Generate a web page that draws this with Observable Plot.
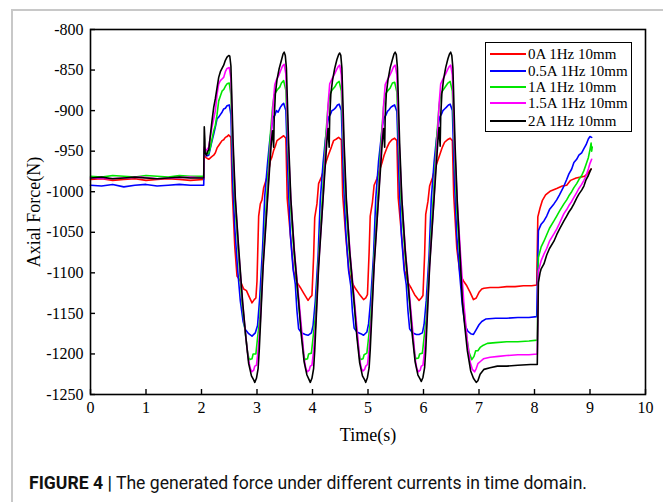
<!DOCTYPE html>
<html>
<head>
<meta charset="utf-8">
<script src="https://cdn.jsdelivr.net/npm/d3@7"></script>
<script src="https://cdn.jsdelivr.net/npm/@observablehq/plot@0.6"></script>
<style>
  html, body { margin: 0; padding: 0; background: #fff; }
  #wrap { position: relative; width: 663px; height: 502px; overflow: hidden; background: #fff; }
  #border { position: absolute; left: 11px; top: 9px; width: 700px; height: 600px;
            border-left: 2px solid #c8c8c8; border-top: 2px solid #c8c8c8; }
  #chart { position: absolute; left: 0; top: 0; }
  #legend { position: absolute; left: 485px; top: 42px; width: 145px; height: 88px;
            border: 1.5px solid #000; background: #fff; font-family: "Liberation Serif", "Times New Roman", serif;
            font-size: 15px; color: #000; }
  .lrow { position: absolute; left: 0; height: 16px; line-height: 16px; white-space: nowrap; }
  .lrow .sw { position: absolute; left: 4px; top: 7px; width: 36px; height: 2px; }
  .lrow .tx { position: absolute; left: 42px; top: 0; }
  #caption { position: absolute; left: 29px; top: 472px; font-family: Roboto, "Liberation Sans", Arial, sans-serif;
             font-size: 18px; color: #111; white-space: nowrap; transform-origin: 0 0; }
  #caption b { font-weight: 700; }
</style>
</head>
<body>
<div id="wrap">
  <div id="border"></div>
  <div id="chart"></div>
  <div id="legend"></div>
  <div id="caption"><b>FIGURE 4</b> <b>|</b> The generated force under different currents in time domain.</div>
</div>
<script>
// ---- Data (time in s, axial force in N) ----
const seriesNames = ["0A 1Hz 10mm", "0.5A 1Hz 10mm", "1A 1Hz 10mm", "1.5A 1Hz 10mm", "2A 1Hz 10mm"];
const seriesColors = ["#ff0000", "#0000ff", "#00e600", "#ff00ff", "#000000"];
const xTicks = [0, 1, 2, 3, 4, 5, 6, 7, 8, 9, 10];
const yTicks = [-1250, -1200, -1150, -1100, -1050, -1000, -950, -900, -850, -800];

const force0A = [
  [0,-985],[0.2,-984],[0.4,-986],[0.6,-985],[0.8,-984],[1.0,-986],[1.2,-985],[1.4,-984],[1.6,-985],[1.8,-986],[2.04,-985],
  [2.05,-955],[2.08,-958],[2.13,-960],[2.18,-957],[2.22,-955],[2.25,-952],[2.28,-946],[2.31,-943],[2.34,-940],[2.37,-937],[2.4,-936],[2.43,-933],[2.46,-932],[2.49,-930],[2.53,-933],
  [2.555,-1000],[2.6,-1068],[2.64,-1104],[2.7,-1110],[2.76,-1120],[2.81,-1122],[2.85,-1128],[2.91,-1137],[2.95,-1133],[2.98,-1131],[3.0,-1110],[3.03,-1030],[3.06,-1015],[3.09,-1010],[3.12,-995],[3.18,-982],[3.21,-975],[3.24,-962],[3.27,-957],[3.3,-949],[3.33,-944],[3.36,-937],[3.42,-934],[3.48,-931],[3.52,-934],
  [3.545,-1009],[3.6,-1052],[3.66,-1098],[3.72,-1112],[3.78,-1118],[3.84,-1125],[3.92,-1134],[3.96,-1130],[3.99,-1128],[4.02,-1080],[4.04,-1032],[4.08,-1015],[4.11,-990],[4.16,-982],[4.2,-974],[4.25,-962],[4.29,-954],[4.34,-945],[4.38,-937],[4.43,-935],[4.47,-933],[4.52,-936],
  [4.545,-1005],[4.6,-1055],[4.66,-1100],[4.72,-1113],[4.78,-1120],[4.84,-1126],[4.92,-1133],[4.96,-1131],[4.99,-1127],[5.02,-1075],[5.04,-1030],[5.08,-1013],[5.11,-992],[5.16,-984],[5.2,-975],[5.25,-965],[5.29,-955],[5.34,-946],[5.38,-940],[5.43,-936],[5.48,-934],[5.52,-937],
  [5.545,-1008],[5.6,-1050],[5.66,-1097],[5.72,-1112],[5.78,-1119],[5.84,-1127],[5.92,-1134],[5.96,-1131],[5.99,-1128],[6.02,-1078],[6.04,-1028],[6.08,-1012],[6.11,-993],[6.16,-983],[6.2,-973],[6.25,-963],[6.29,-955],[6.34,-945],[6.38,-939],[6.43,-936],[6.48,-934],[6.52,-937],
  [6.545,-1005],[6.6,-1070],[6.66,-1102],[6.72,-1110],[6.78,-1116],[6.84,-1124],[6.9,-1133],[6.95,-1131],[7.0,-1124],[7.05,-1120],[7.09,-1119],[7.2,-1118],[7.35,-1118],[7.5,-1117],[7.65,-1117],[7.8,-1116],[7.95,-1116],[8.04,-1115],
  [8.06,-1031],[8.1,-1020],[8.14,-1011],[8.2,-1004],[8.29,-999],[8.4,-996],[8.5,-993],[8.58,-992],[8.65,-986],[8.75,-983],[8.83,-982],[8.9,-981],[8.95,-978],[9.02,-972]
];

const force05A = [
  [0,-992],[0.2,-993],[0.4,-991],[0.6,-994],[0.8,-992],[1.0,-991],[1.2,-993],[1.4,-992],[1.6,-991],[1.8,-992],[2.04,-992],
  [2.05,-950],[2.09,-956],[2.13,-955],[2.18,-940],[2.22,-929],[2.25,-920],[2.28,-910],[2.31,-908],[2.34,-905],[2.37,-902],[2.4,-898],[2.43,-897],[2.46,-894],[2.5,-893],[2.53,-905],
  [2.56,-985],[2.6,-1045],[2.65,-1095],[2.7,-1135],[2.75,-1160],[2.79,-1170],[2.85,-1175],[2.91,-1178],[2.97,-1174],[3.01,-1165],
  [3.05,-1130],[3.1,-1070],[3.14,-1005],[3.19,-965],[3.23,-937],[3.27,-918],[3.29,-908],[3.32,-906],[3.35,-900],[3.38,-902],[3.42,-896],[3.45,-893],[3.48,-891],[3.52,-900],
  [3.56,-985],[3.6,-1052],[3.65,-1095],[3.69,-1114],[3.72,-1147],[3.75,-1169],[3.8,-1174],[3.87,-1176],[3.92,-1177],[3.98,-1174],[4.01,-1165],
  [4.05,-1135],[4.1,-1080],[4.14,-1010],[4.19,-965],[4.23,-937],[4.26,-920],[4.29,-908],[4.32,-905],[4.35,-900],[4.38,-899],[4.41,-897],[4.45,-893],[4.48,-892],[4.52,-900],
  [4.56,-988],[4.6,-1050],[4.65,-1097],[4.69,-1116],[4.72,-1148],[4.75,-1168],[4.8,-1173],[4.87,-1175],[4.92,-1177],[4.98,-1173],[5.01,-1163],
  [5.05,-1132],[5.1,-1078],[5.14,-1008],[5.19,-963],[5.23,-938],[5.26,-919],[5.29,-909],[5.32,-906],[5.35,-901],[5.38,-899],[5.41,-896],[5.45,-894],[5.48,-893],[5.52,-901],
  [5.56,-986],[5.6,-1051],[5.65,-1096],[5.69,-1115],[5.72,-1147],[5.75,-1169],[5.8,-1174],[5.87,-1176],[5.92,-1176],[5.98,-1174],[6.01,-1164],
  [6.05,-1134],[6.1,-1079],[6.14,-1009],[6.19,-964],[6.23,-937],[6.26,-920],[6.29,-908],[6.32,-905],[6.35,-900],[6.38,-898],[6.41,-896],[6.45,-893],[6.48,-892],[6.52,-900],
  [6.56,-990],[6.6,-1055],[6.65,-1100],[6.7,-1140],[6.75,-1165],[6.8,-1172],[6.85,-1175],[6.9,-1176],[6.95,-1170],[7.0,-1164],[7.05,-1160],[7.12,-1157],[7.3,-1156],[7.5,-1156],[7.7,-1155],[7.9,-1155],[8.04,-1154],
  [8.07,-1048],[8.12,-1040],[8.17,-1036],[8.22,-1030],[8.27,-1022],[8.35,-1015],[8.4,-1010],[8.45,-1004],[8.53,-993],[8.58,-985],[8.62,-978],[8.67,-972],[8.71,-964],[8.76,-960],[8.8,-955],[8.85,-952],[8.89,-947],[8.93,-942],[8.97,-935],[9.0,-932],[9.03,-933]
];

const force1A = [
  [0,-981],[0.2,-982],[0.4,-980],[0.6,-981],[0.8,-982],[1.0,-980],[1.2,-981],[1.4,-982],[1.6,-980],[1.8,-981],[2.04,-981],
  [2.05,-948],[2.08,-953],[2.13,-953],[2.16,-945],[2.19,-935],[2.22,-925],[2.25,-918],[2.28,-905],[2.31,-888],[2.34,-882],[2.37,-876],[2.4,-874],[2.43,-870],[2.46,-867],[2.5,-866],[2.53,-880],
  [2.56,-950],[2.6,-1012],[2.66,-1072],[2.73,-1137],[2.79,-1175],[2.83,-1198],[2.86,-1207],[2.91,-1206],[2.93,-1200],[2.98,-1200],[3.01,-1180],
  [3.05,-1158],[3.11,-1080],[3.18,-1002],[3.24,-930],[3.28,-896],[3.31,-881],[3.34,-877],[3.37,-874],[3.41,-871],[3.44,-866],[3.48,-863],[3.52,-875],
  [3.56,-950],[3.6,-1012],[3.67,-1078],[3.75,-1137],[3.81,-1180],[3.84,-1200],[3.86,-1207],[3.91,-1206],[3.93,-1200],[3.98,-1199],[4.01,-1180],
  [4.05,-1155],[4.11,-1082],[4.18,-1005],[4.24,-930],[4.28,-895],[4.31,-880],[4.35,-875],[4.4,-871],[4.44,-866],[4.48,-864],[4.52,-876],
  [4.56,-952],[4.6,-1014],[4.67,-1080],[4.75,-1138],[4.81,-1181],[4.84,-1200],[4.86,-1207],[4.91,-1206],[4.93,-1201],[4.98,-1199],[5.01,-1180],
  [5.05,-1156],[5.11,-1080],[5.18,-1004],[5.24,-932],[5.28,-896],[5.31,-880],[5.35,-876],[5.4,-872],[5.44,-866],[5.48,-865],[5.52,-877],
  [5.56,-951],[5.6,-1013],[5.67,-1079],[5.75,-1137],[5.81,-1180],[5.84,-1199],[5.86,-1206],[5.91,-1205],[5.93,-1200],[5.98,-1199],[6.01,-1180],
  [6.05,-1157],[6.11,-1081],[6.18,-1003],[6.24,-931],[6.28,-895],[6.31,-879],[6.35,-875],[6.4,-870],[6.44,-866],[6.48,-864],[6.52,-876],
  [6.56,-955],[6.6,-1020],[6.66,-1085],[6.72,-1140],[6.78,-1180],[6.82,-1198],[6.87,-1207],[6.91,-1203],[6.94,-1196],[6.98,-1196],[7.02,-1192],[7.06,-1190],[7.15,-1187],[7.3,-1186],[7.5,-1185],[7.7,-1185],[7.9,-1184],[8.05,-1183],
  [8.07,-1081],[8.12,-1068],[8.17,-1061],[8.22,-1053],[8.27,-1045],[8.35,-1036],[8.4,-1030],[8.45,-1024],[8.53,-1015],[8.58,-1010],[8.62,-1005],[8.67,-1000],[8.71,-995],[8.76,-990],[8.8,-985],[8.85,-980],[8.89,-974],[8.93,-966],[8.97,-958],[9.0,-948],[9.02,-940],[9.03,-950],[9.04,-945]
];

const force15A = [
  [0,-983],[0.3,-984],[0.6,-983],[0.9,-982],[1.2,-984],[1.5,-983],[1.8,-982],[2.04,-983],
  [2.05,-945],[2.08,-950],[2.13,-945],[2.16,-932],[2.19,-920],[2.22,-910],[2.25,-900],[2.28,-880],[2.31,-867],[2.34,-863],[2.37,-861],[2.4,-859],[2.43,-852],[2.46,-848],[2.5,-847],[2.53,-860],
  [2.565,-945],[2.61,-1010],[2.67,-1073],[2.74,-1137],[2.8,-1180],[2.84,-1205],[2.88,-1218],[2.91,-1222],[2.94,-1220],[2.96,-1215],[2.99,-1214],[3.02,-1196],
  [3.06,-1160],[3.11,-1088],[3.19,-1007],[3.25,-935],[3.29,-893],[3.32,-868],[3.35,-862],[3.39,-857],[3.43,-850],[3.46,-845],[3.49,-843],[3.52,-855],
  [3.565,-945],[3.61,-1010],[3.68,-1078],[3.76,-1137],[3.82,-1182],[3.85,-1206],[3.88,-1218],[3.91,-1222],[3.94,-1220],[3.96,-1215],[3.99,-1214],[4.02,-1196],
  [4.06,-1160],[4.11,-1090],[4.19,-1008],[4.25,-932],[4.28,-893],[4.31,-867],[4.35,-861],[4.39,-856],[4.43,-850],[4.46,-846],[4.49,-844],[4.52,-856],
  [4.565,-946],[4.61,-1011],[4.68,-1079],[4.76,-1138],[4.82,-1183],[4.85,-1206],[4.88,-1218],[4.91,-1221],[4.94,-1219],[4.96,-1215],[4.99,-1213],[5.02,-1195],
  [5.06,-1158],[5.11,-1089],[5.19,-1007],[5.25,-933],[5.28,-894],[5.31,-868],[5.35,-862],[5.39,-857],[5.43,-851],[5.46,-846],[5.49,-844],[5.52,-856],
  [5.565,-945],[5.61,-1010],[5.68,-1078],[5.76,-1137],[5.82,-1182],[5.85,-1206],[5.88,-1218],[5.91,-1222],[5.94,-1220],[5.96,-1215],[5.99,-1214],[6.02,-1196],
  [6.06,-1159],[6.11,-1090],[6.19,-1008],[6.25,-932],[6.28,-893],[6.31,-867],[6.35,-861],[6.39,-856],[6.43,-850],[6.46,-846],[6.49,-844],[6.52,-856],
  [6.565,-950],[6.61,-1015],[6.67,-1080],[6.73,-1140],[6.79,-1185],[6.84,-1210],[6.88,-1219],[6.92,-1222],[6.95,-1218],[6.98,-1212],[7.03,-1209],[7.08,-1206],[7.2,-1204],[7.35,-1203],[7.5,-1202],[7.7,-1201],[7.9,-1201],[8.05,-1200],
  [8.07,-1098],[8.12,-1085],[8.17,-1077],[8.22,-1070],[8.27,-1061],[8.35,-1052],[8.4,-1046],[8.45,-1039],[8.53,-1027],[8.58,-1022],[8.62,-1017],[8.67,-1012],[8.71,-1007],[8.76,-1001],[8.8,-996],[8.85,-991],[8.89,-986],[8.93,-980],[8.97,-972],[9.0,-965],[9.03,-960]
];

const force2A = [
  [0,-983],[0.2,-982],[0.4,-984],[0.6,-983],[0.8,-982],[1.0,-983],[1.2,-984],[1.4,-983],[1.6,-982],[1.8,-983],[2.04,-983],
  [2.05,-920],[2.06,-935],[2.065,-952],[2.09,-955],[2.11,-950],[2.13,-949],[2.16,-930],[2.19,-912],[2.22,-896],[2.25,-885],[2.28,-872],[2.31,-859],[2.34,-852],[2.37,-848],[2.4,-844],[2.43,-838],[2.46,-834],[2.49,-832],[2.51,-833],[2.53,-845],
  [2.57,-940],[2.61,-1009],[2.67,-1070],[2.74,-1135],[2.8,-1180],[2.85,-1212],[2.9,-1227],[2.94,-1232],[2.96,-1235],[2.99,-1230],[3.02,-1218],
  [3.04,-1196],[3.11,-1093],[3.19,-1009],[3.26,-937],[3.28,-925],[3.3,-945],[3.31,-910],[3.33,-880],[3.36,-862],[3.4,-848],[3.44,-838],[3.47,-830],[3.49,-828],[3.51,-832],[3.53,-848],
  [3.57,-940],[3.61,-1009],[3.67,-1072],[3.75,-1135],[3.8,-1178],[3.85,-1210],[3.9,-1226],[3.94,-1232],[3.96,-1235],[3.99,-1230],[4.02,-1218],
  [4.04,-1196],[4.11,-1093],[4.19,-1009],[4.26,-937],[4.28,-922],[4.3,-945],[4.31,-908],[4.33,-880],[4.36,-863],[4.4,-848],[4.44,-837],[4.47,-831],[4.49,-829],[4.51,-832],[4.53,-848],
  [4.57,-941],[4.61,-1010],[4.67,-1073],[4.75,-1136],[4.8,-1179],[4.85,-1211],[4.9,-1227],[4.94,-1232],[4.96,-1235],[4.99,-1229],[5.02,-1217],
  [5.04,-1195],[5.11,-1092],[5.19,-1008],[5.26,-936],[5.28,-922],[5.3,-945],[5.31,-907],[5.33,-879],[5.36,-862],[5.4,-847],[5.44,-837],[5.47,-830],[5.49,-828],[5.51,-831],[5.53,-847],
  [5.57,-940],[5.61,-1009],[5.67,-1072],[5.75,-1135],[5.8,-1178],[5.85,-1210],[5.9,-1226],[5.94,-1231],[5.96,-1234],[5.99,-1229],[6.02,-1217],
  [6.04,-1196],[6.11,-1093],[6.19,-1009],[6.26,-937],[6.28,-921],[6.3,-944],[6.31,-907],[6.33,-880],[6.36,-862],[6.4,-847],[6.44,-836],[6.47,-830],[6.49,-828],[6.51,-832],[6.53,-848],
  [6.57,-945],[6.61,-1015],[6.66,-1080],[6.7,-1135],[6.75,-1170],[6.79,-1196],[6.85,-1221],[6.9,-1230],[6.95,-1235],[6.98,-1233],[7.02,-1225],[7.09,-1219],[7.2,-1217],[7.33,-1215],[7.5,-1215],[7.7,-1214],[7.93,-1213],[8.05,-1213],
  [8.07,-1112],[8.1,-1100],[8.12,-1095],[8.17,-1089],[8.22,-1078],[8.27,-1070],[8.35,-1061],[8.4,-1053],[8.45,-1046],[8.53,-1036],[8.58,-1030],[8.62,-1025],[8.67,-1020],[8.71,-1015],[8.76,-1008],[8.8,-1003],[8.85,-998],[8.89,-993],[8.93,-985],[8.97,-980],[9.0,-975],[9.02,-972]
];

const seriesData = [force0A, force05A, force1A, force15A, force2A];

// ---- Build table ----
const rows = [];
seriesData.forEach((arr, i) => arr.forEach(([t, f]) => rows.push({series: seriesNames[i], t, f})));

const serif = '"Liberation Serif", "Times New Roman", serif';

const chart = Plot.plot({
  width: 663,
  height: 450,
  marginLeft: 90,
  marginRight: 18,
  marginTop: 29,
  marginBottom: 56,
  style: {fontFamily: serif, fontSize: "16px", color: "#000", background: "none", overflow: "visible"},
  x: {domain: [0, 10]},
  y: {domain: [-1250, -800]},
  color: {domain: seriesNames, range: seriesColors},
  marks: [
    Plot.line(rows, {x: "t", y: "f", z: "series", stroke: "series", strokeWidth: 1.6, curve: "linear"}),
    Plot.frame({stroke: "#000", strokeWidth: 1.6}),
    Plot.axisX({ticks: xTicks, tickSize: -5, tickPadding: 12, tickFormat: d => String(d),
      label: "Time(s)", labelAnchor: "center", labelOffset: 46, labelArrow: false, stroke: "#000", strokeWidth: 1.4}),
    Plot.axisY({ticks: yTicks, tickSize: -5, tickPadding: 12, tickFormat: d => String(d).replace("\u2212", "-"),
      label: "Axial Force(N)", labelAnchor: "center", labelOffset: 63, labelArrow: false, stroke: "#000", strokeWidth: 1.4})
  ]
});
document.getElementById("chart").appendChild(chart);

// axis label font
d3.select(chart).selectAll('g[aria-label="x-axis label"] text, g[aria-label="y-axis label"] text')
  .style("font-size", "18px");
d3.select(chart).selectAll('g[aria-label="y-axis tick label"] text').each(function() {
  this.textContent = this.textContent.replace("\u2212", "-");
});

// ---- Legend ----
const legend = d3.select("#legend");
const rowTops = [3, 20, 36, 52, 70];
seriesNames.forEach((name, i) => {
  const r = legend.append("div").attr("class", "lrow").style("top", rowTops[i] + "px");
  r.append("div").attr("class", "sw").style("background", seriesColors[i]);
  r.append("div").attr("class", "tx").text(name);
});

// ---- Caption width fit ----
const cap = document.getElementById("caption");
const w = cap.getBoundingClientRect().width;
cap.style.transform = `scaleX(${558 / w})`;
</script>
</body>
</html>
